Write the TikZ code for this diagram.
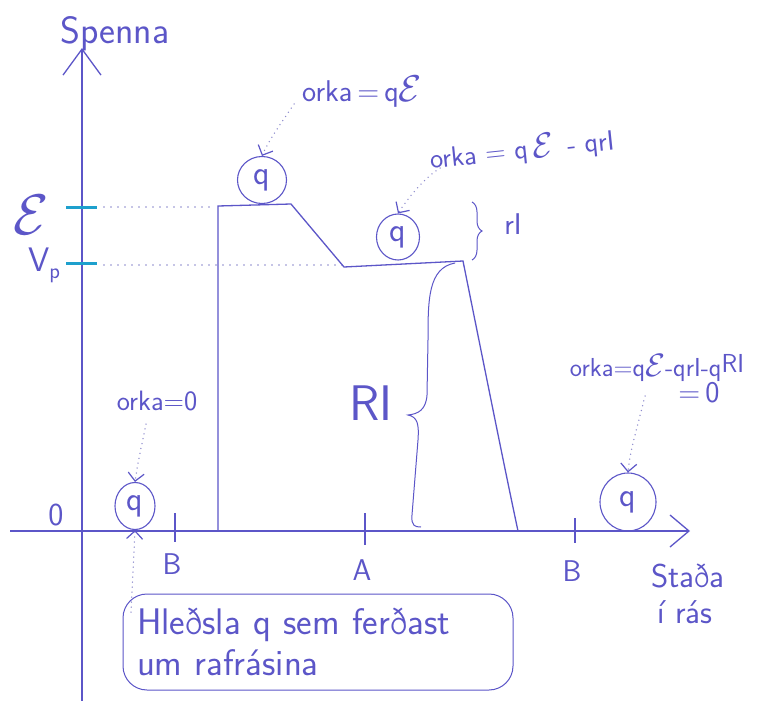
\documentclass[tikz,border=0pt]{standalone}
\usepackage{fontspec}
\usetikzlibrary{arrows.meta,shapes.geometric,decorations.pathreplacing}
\definecolor{inkc}{RGB}{92,86,200}
\definecolor{dotc}{RGB}{140,138,205}
\definecolor{tickc}{RGB}{30,160,205}
\newcommand{\myfs}[1]{\fontsize{#1}{#1}\selectfont\sffamily}
\newcommand{\emf}[1][1.3]{\scalebox{#1}{$\mathcal{E}$}}
\begin{document}
\begin{tikzpicture}[x=1pt,y=-1pt,
  inkline/.style={draw=inkc, line width=1.3pt},
  axisline/.style={draw=inkc, line width=1.3pt},
  guide/.style={draw=dotc, line width=1.6pt, line cap=round, dash pattern=on 0pt off 7pt},
  dotarr/.style={draw=dotc, line width=1.5pt, line cap=round, dash pattern=on 0pt off 5pt,
     -{Straight Barb[length=8pt,width=16pt,line width=1.2pt,color=inkc]}},
  lbl/.style={text=inkc, font=\myfs{29}, inner sep=0pt},
  qc/.style={draw=inkc, ellipse, line width=1.1pt, inner sep=0pt, text=inkc, font=\myfs{34}},
  tickmark/.style={draw=tickc, line width=3pt},
  hbox/.style={draw=inkc, line width=1pt, rounded corners=24pt, text=inkc, font=\myfs{37},
     align=left, text width=362pt, inner xsep=14pt, minimum height=96pt, inner ysep=0pt}
]
\useasboundingbox (0,0) rectangle (764,701);
\fill[white] (0,0) rectangle (764,701);

% axes
\coordinate (ybot) at (82,701);
\coordinate (ytop) at (82,48);
\coordinate (xl) at (10,531);
\coordinate (xr) at (690,531);
\draw[axisline, -{Straight Barb[length=26pt,width=38pt,line width=1.3pt]}] (ybot) -- (ytop);
\draw[axisline, -{Straight Barb[length=19pt,width=32pt,line width=1.3pt]}] (xl) -- (xr);
\node[lbl, font=\myfs{38}] (spenna) at (115,34) {Spenna};
\node[lbl, font=\myfs{33}] (stada) at (688,576) {Staða};
\node[lbl, font=\myfs{33}] (iras) at (685,612) {í rás};
\node[lbl, font=\myfs{32}] (zero) at (56,515) {0};

% voltage ticks
\draw[tickmark] (66,207) -- (97,207);
\draw[tickmark] (66,263) -- (97,263);
\node[lbl] (emfl) at (31,215) {\emf[2.3]};
\node[lbl, font=\myfs{34}] (vp) at (44,265) {V\raisebox{-7pt}{\myfs{22}p}};
\draw[guide] (104,207) -- (216,207);
\draw[guide] (104,265) -- (343,265);

% x ticks
\draw[inkline] (175,513) -- (175,542);
\draw[inkline] (365,513) -- (365,545);
\draw[inkline] (575,518) -- (575,543);
\node[lbl, font=\myfs{30}] (b1) at (172,564) {B};
\node[lbl, font=\myfs{30}] (a) at (362,570) {A};
\node[lbl, font=\myfs{30}] (b2) at (572,571) {B};

% voltage curve
\draw[inkline] (218,531) -- (218,206) -- (291,204) -- (344,267) -- (463,261)
   .. controls (490,395) and (505,470) .. (518,531);

% braces
\draw[inkline, line width=1pt, decorate, decoration={brace, amplitude=10pt}] (472,202) -- (472,260);
\node[lbl, font=\myfs{30}] (ri) at (513,224) {rI};
\draw[inkline, line width=1pt] (455,263) .. controls (428,268) and (428,300) .. (428,340)
   -- (427,395) .. controls (426,410) and (418,414) .. (408,415)
   .. controls (418,417) and (419,425) .. (418,440) -- (412,515)
   .. controls (411,526) and (415,527) .. (421,527);
\node[lbl, font=\myfs{50}] (bigri) at (371,403) {RI};

% charges
\node[qc, minimum width=49pt, minimum height=47pt] (q1) at (262,180) {q};
\node[qc, minimum width=43pt, minimum height=46pt] (q2) at (398,237) {q};
\node[qc, minimum width=40pt, minimum height=47pt] (q3) at (135,506) {q};
\node[qc, minimum width=56pt, minimum height=58pt] (q4) at (628,502) {q};

% energy labels
\node[lbl, font=\myfs{30}] (t1) at (362,92) {orka\,=\,q\emf[1.5]};
\node[lbl, rotate=6, font=\myfs{28}] (t2) at (522,150) {orka = q\,\emf[1.4]\, - qrI};
\node[lbl, font=\myfs{28}] (t3) at (157,401) {orka=0};
\node[lbl, font=\myfs{26}] (t4) at (657,368) {orka=q\emf[1.3]-qrI-q\raisebox{4pt}{RI}};
\node[lbl, font=\myfs{30}] (t4b) at (699,393) {=\,0};

\coordinate (s1) at (294,104);
\coordinate (s2) at (440,168);
\coordinate (s3) at (146,424);
\coordinate (s4) at (645,396);
\coordinate (s5) at (131,612);
\draw[dotarr] (s1) .. controls (282,122) and (270,138) .. (q1.north);
\draw[dotarr] (s2) .. controls (425,178) and (410,195) .. (q2.north);
\draw[dotarr] (s3) .. controls (142,445) and (138,460) .. (q3.north);
\draw[dotarr] (s4) .. controls (638,425) and (630,450) .. (q4.north);

% annotation box
\node[hbox] (hb) at (318,642) {Hleðsla q sem ferðast\\[4pt]um rafrásina};
\draw[dotarr] (s5) -- (q3.south);
\end{tikzpicture}
\end{document}
